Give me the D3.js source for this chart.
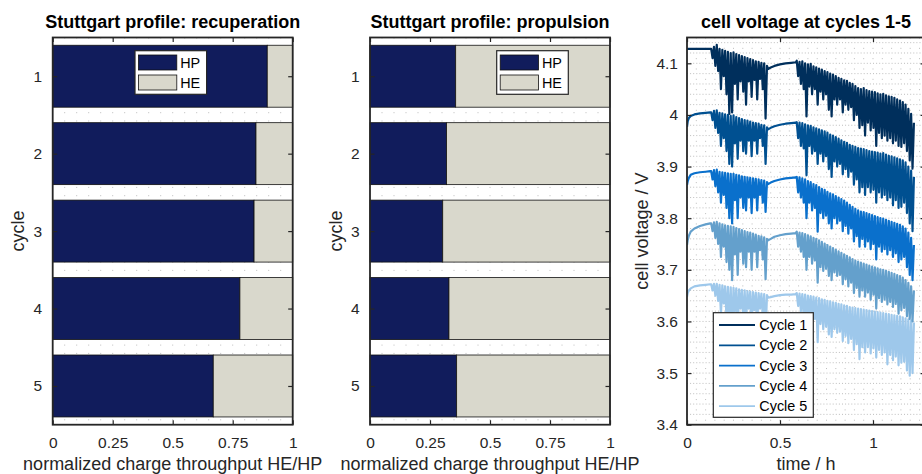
<!DOCTYPE html>
<html><head><meta charset="utf-8">
<script src="https://cdn.jsdelivr.net/npm/d3@7"></script>
<style>
body{margin:0;background:#fff;}
svg{display:block;font-family:"Liberation Sans",Arial,Helvetica,sans-serif;}
</style>
</head><body>
<svg id="chart" width="922" height="474"></svg>
<script>
// ---------------- data ----------------
const cycles = [1, 2, 3, 4, 5];
const hpRecuperation = [0.894, 0.847, 0.839, 0.780, 0.669];
const heRecuperation = [0.106, 0.153, 0.161, 0.220, 0.331];
const hpPropulsion = [0.357, 0.319, 0.303, 0.329, 0.361];
const hePropulsion = [0.643, 0.681, 0.697, 0.671, 0.639];
const barTicks = [0, 0.25, 0.5, 0.75, 1];
const barTickLabels = ["0", "0.25", "0.5", "0.75", "1"];
const barSeries = ["HP", "HE"];

const timeTicks = [0, 0.5, 1];
const timeTickLabels = ["0", "0.5", "1"];
const voltTicks = [3.4, 3.5, 3.6, 3.7, 3.8, 3.9, 4, 4.1];
const voltTickLabels = ["3.4", "3.5", "3.6", "3.7", "3.8", "3.9", "4", "4.1"];
const cycleNames = ["Cycle 1", "Cycle 2", "Cycle 3", "Cycle 4", "Cycle 5"];

const timeH = [
  0, 0.004, 0.01, 0.02, 0.04, 0.07, 0.10, 0.125,
  0.130, 0.1375, 0.145, 0.1525, 0.160, 0.1675, 0.175, 0.1825, 0.190, 0.1975, 0.205, 0.2125, 0.220, 0.2275,
  0.235, 0.2425, 0.250, 0.2575, 0.265, 0.2725, 0.280, 0.2875, 0.295, 0.3025, 0.310, 0.3175, 0.325, 0.3325,
  0.340, 0.3475, 0.355, 0.3625, 0.370, 0.3775, 0.385, 0.3925, 0.400, 0.4075, 0.415, 0.4225, 0.430,
  0.436, 0.45, 0.47, 0.50, 0.53, 0.56, 0.585,
  0.5900, 0.5975, 0.6050, 0.6125, 0.6200, 0.6275, 0.6350, 0.6425, 0.6500, 0.6575, 0.6650, 0.6725, 0.6800,
  0.6875, 0.6950, 0.7025, 0.7100, 0.7175, 0.7250, 0.7325, 0.7400, 0.7475, 0.7550, 0.7625, 0.7700, 0.7775,
  0.7850, 0.7925, 0.8000, 0.8075, 0.8150, 0.8225, 0.8300, 0.8375, 0.8450, 0.8525, 0.8600, 0.8675, 0.8750,
  0.8825, 0.8900, 0.8975, 0.9050, 0.9125, 0.9200, 0.9275, 0.9350, 0.9425, 0.9500, 0.9575, 0.9650, 0.9725,
  0.9800, 0.9875, 0.9950, 1.0025, 1.0100, 1.0175, 1.0250, 1.0325, 1.0400, 1.0475, 1.0550, 1.0625, 1.0700,
  1.0775, 1.0850, 1.0925, 1.1000, 1.1075, 1.1150, 1.1225, 1.1300, 1.1375, 1.1450, 1.1525, 1.1600, 1.1675,
  1.1750, 1.1825, 1.1900, 1.1975, 1.2050, 1.2125, 1.2200
];

const voltCycle1 = [
  4.127, 4.128, 4.128, 4.128, 4.128, 4.128, 4.128, 4.128,
  4.128, 4.110, 4.132, 4.095, 4.136, 4.085, 4.128, 4.050, 4.126, 4.075, 4.124, 4.040, 4.122, 4.002,
  4.120, 4.005, 4.121, 4.060, 4.118, 4.030, 4.116, 4.065, 4.114, 4.045, 4.112, 4.020, 4.110, 4.065,
  4.108, 4.035, 4.106, 4.068, 4.104, 4.030, 4.103, 4.070, 4.101, 4.050, 4.100, 3.993, 4.095,
  4.089, 4.092, 4.095, 4.098, 4.100, 4.101, 4.102,
  4.105, 4.075, 4.103, 4.060, 4.104, 4.050, 4.100, 3.997, 4.098, 4.055, 4.099, 4.040, 4.094,
  4.050, 4.092, 4.020, 4.090, 4.045, 4.088, 4.030, 4.085, 4.040, 4.083, 4.010, 4.080, 3.997,
  4.078, 4.030, 4.075, 4.020, 4.072, 4.030, 4.070, 4.005, 4.067, 4.020, 4.066, 4.010, 4.062,
  4.015, 4.060, 3.990, 4.056, 4.000, 4.052, 3.975, 4.050, 3.980, 4.052, 3.960, 4.048, 3.985,
  4.046, 3.970, 4.045, 3.975, 4.044, 3.940, 4.042, 3.965, 4.040, 3.955, 4.041, 3.960, 4.038,
  3.950, 4.036, 3.955, 4.035, 3.945, 4.033, 3.950, 4.030, 3.940, 4.028, 3.938, 4.025, 3.945,
  4.020, 3.930, 4.012, 3.912, 4.002, 3.896, 3.985
];
const voltCycle2 = [
  3.977, 3.988, 3.994, 3.998, 4.001, 4.003, 4.004, 4.005,
  4.005, 3.990, 4.008, 3.975, 4.009, 3.965, 4.004, 3.940, 4.003, 3.955, 4.001, 3.930, 4.000, 3.905,
  3.998, 3.900, 3.999, 3.945, 3.996, 3.915, 3.994, 3.950, 3.992, 3.930, 3.990, 3.925, 3.989, 3.950,
  3.987, 3.920, 3.985, 3.950, 3.984, 3.925, 3.983, 3.955, 3.981, 3.940, 3.980, 3.905, 3.976,
  3.972, 3.975, 3.978, 3.981, 3.983, 3.984, 3.985,
  3.986, 3.955, 3.985, 3.940, 3.984, 3.935, 3.982, 3.883, 3.980, 3.940, 3.979, 3.925, 3.976,
  3.930, 3.974, 3.905, 3.972, 3.925, 3.970, 3.910, 3.968, 3.920, 3.966, 3.895, 3.962, 3.880,
  3.960, 3.910, 3.957, 3.900, 3.954, 3.905, 3.951, 3.885, 3.948, 3.895, 3.946, 3.880, 3.942,
  3.890, 3.940, 3.865, 3.938, 3.875, 3.936, 3.850, 3.935, 3.860, 3.934, 3.845, 3.932, 3.860,
  3.930, 3.850, 3.929, 3.855, 3.928, 3.830, 3.927, 3.850, 3.925, 3.840, 3.926, 3.845, 3.923,
  3.835, 3.921, 3.840, 3.920, 3.825, 3.918, 3.835, 3.916, 3.820, 3.914, 3.822, 3.912, 3.830,
  3.908, 3.810, 3.900, 3.790, 3.892, 3.775, 3.880
];
const voltCycle3 = [
  3.864, 3.872, 3.878, 3.884, 3.887, 3.889, 3.890, 3.891,
  3.891, 3.875, 3.893, 3.862, 3.894, 3.850, 3.890, 3.830, 3.889, 3.845, 3.888, 3.820, 3.887, 3.800,
  3.886, 3.790, 3.886, 3.835, 3.884, 3.800, 3.883, 3.840, 3.881, 3.820, 3.880, 3.815, 3.879, 3.840,
  3.878, 3.810, 3.877, 3.840, 3.876, 3.815, 3.875, 3.845, 3.874, 3.830, 3.873, 3.812, 3.870,
  3.866, 3.869, 3.872, 3.875, 3.877, 3.878, 3.879,
  3.880, 3.850, 3.879, 3.840, 3.877, 3.830, 3.875, 3.800, 3.872, 3.830, 3.870, 3.815, 3.866,
  3.820, 3.864, 3.774, 3.860, 3.810, 3.857, 3.800, 3.855, 3.805, 3.851, 3.790, 3.848, 3.780,
  3.846, 3.800, 3.843, 3.790, 3.840, 3.795, 3.837, 3.775, 3.834, 3.785, 3.830, 3.770, 3.826,
  3.780, 3.822, 3.755, 3.818, 3.765, 3.815, 3.745, 3.813, 3.760, 3.812, 3.745, 3.810, 3.755,
  3.808, 3.740, 3.806, 3.750, 3.804, 3.720, 3.802, 3.745, 3.800, 3.735, 3.799, 3.740, 3.797,
  3.730, 3.795, 3.738, 3.793, 3.725, 3.791, 3.732, 3.789, 3.715, 3.787, 3.720, 3.784, 3.725,
  3.780, 3.705, 3.772, 3.690, 3.762, 3.680, 3.748
];
const voltCycle4 = [
  3.748, 3.758, 3.766, 3.774, 3.780, 3.785, 3.788, 3.790,
  3.790, 3.775, 3.792, 3.762, 3.793, 3.750, 3.790, 3.725, 3.788, 3.745, 3.786, 3.715, 3.785, 3.700,
  3.784, 3.680, 3.783, 3.730, 3.781, 3.690, 3.779, 3.735, 3.777, 3.712, 3.775, 3.705, 3.773, 3.735,
  3.772, 3.700, 3.770, 3.735, 3.768, 3.705, 3.766, 3.738, 3.765, 3.720, 3.763, 3.682, 3.760,
  3.757, 3.760, 3.764, 3.767, 3.769, 3.770, 3.771,
  3.774, 3.745, 3.772, 3.735, 3.771, 3.725, 3.769, 3.700, 3.767, 3.725, 3.765, 3.712, 3.762,
  3.718, 3.760, 3.675, 3.757, 3.705, 3.754, 3.698, 3.751, 3.702, 3.748, 3.688, 3.745, 3.680,
  3.742, 3.695, 3.739, 3.688, 3.736, 3.690, 3.733, 3.672, 3.730, 3.682, 3.727, 3.668, 3.724,
  3.675, 3.721, 3.655, 3.718, 3.665, 3.716, 3.648, 3.714, 3.660, 3.712, 3.648, 3.710, 3.656,
  3.708, 3.642, 3.706, 3.652, 3.705, 3.625, 3.703, 3.645, 3.701, 3.638, 3.700, 3.642, 3.698,
  3.633, 3.696, 3.638, 3.694, 3.628, 3.692, 3.634, 3.690, 3.615, 3.688, 3.622, 3.685, 3.626,
  3.680, 3.610, 3.675, 3.605, 3.668, 3.600, 3.660
];
const voltCycle5 = [
  3.648, 3.655, 3.660, 3.664, 3.668, 3.670, 3.671, 3.672,
  3.672, 3.660, 3.673, 3.650, 3.673, 3.640, 3.671, 3.615, 3.670, 3.635, 3.668, 3.605, 3.667, 3.590,
  3.666, 3.575, 3.665, 3.620, 3.664, 3.585, 3.662, 3.625, 3.661, 3.600, 3.660, 3.595, 3.659, 3.625,
  3.658, 3.590, 3.657, 3.622, 3.656, 3.595, 3.655, 3.625, 3.654, 3.610, 3.653, 3.575, 3.651,
  3.646, 3.647, 3.649, 3.651, 3.652, 3.652, 3.653,
  3.655, 3.630, 3.654, 3.620, 3.653, 3.612, 3.652, 3.595, 3.650, 3.615, 3.649, 3.600, 3.648,
  3.605, 3.646, 3.560, 3.645, 3.595, 3.643, 3.585, 3.642, 3.590, 3.640, 3.575, 3.639, 3.570,
  3.637, 3.585, 3.636, 3.578, 3.634, 3.580, 3.633, 3.562, 3.631, 3.572, 3.630, 3.558, 3.628,
  3.566, 3.627, 3.545, 3.626, 3.556, 3.625, 3.527, 3.624, 3.550, 3.623, 3.540, 3.622, 3.550,
  3.621, 3.538, 3.620, 3.548, 3.619, 3.530, 3.618, 3.545, 3.617, 3.535, 3.616, 3.540, 3.615,
  3.517, 3.614, 3.535, 3.613, 3.525, 3.612, 3.532, 3.611, 3.515, 3.610, 3.520, 3.608, 3.522,
  3.606, 3.505, 3.604, 3.495, 3.602, 3.500, 3.598
];
const voltSeries = [voltCycle1, voltCycle2, voltCycle3, voltCycle4, voltCycle5];

// ---------------- styles ----------------
const HP_COLOR = "#111c5c";
const HE_COLOR = "#d9d8cc";
const CYCLE_COLORS = ["#002f5c", "#005091", "#0a70cc", "#64a0cc", "#9ec8eb"];
const AX = "#262626";
const GRID = "#bdbdbd";
const TOP = 37.5, BOTTOM = 424.7;
const TICK_FS = 15.5, LABEL_FS = 18, TITLE_FS = 18, LEG_FS = 14.4;
const LABEL_Y = 469.5;

const svg = d3.select("#chart");

function styleAxis(sel) {
  sel.select(".domain").remove();
  sel.attr("font-family", null).attr("font-size", null);
  sel.selectAll(".tick line").attr("stroke", AX).attr("stroke-width", 1.2);
  sel.selectAll(".tick text").attr("fill", AX).attr("font-size", TICK_FS);
}

function frame(g, x, y, xTickVals, xFmt, yTickVals, yFmt, left, right, top, bottom, yPad) {
  g.append("g").attr("transform", `translate(0,${bottom})`)
    .call(d3.axisBottom(x).tickValues(xTickVals).tickFormat(xFmt).tickSizeInner(-4.5).tickSizeOuter(0).tickPadding(12.8))
    .call(styleAxis);
  g.append("g").attr("transform", `translate(0,${top})`)
    .call(d3.axisTop(x).tickValues(xTickVals).tickFormat("").tickSizeInner(-4.5).tickSizeOuter(0))
    .call(styleAxis);
  g.append("g").attr("transform", `translate(${left},0)`)
    .call(d3.axisLeft(y).tickValues(yTickVals).tickFormat(yFmt).tickSizeInner(-4.5).tickSizeOuter(0).tickPadding(yPad))
    .call(styleAxis);
  g.append("g").attr("transform", `translate(${right},0)`)
    .call(d3.axisRight(y).tickValues(yTickVals).tickFormat("").tickSizeInner(-4.5).tickSizeOuter(0))
    .call(styleAxis);
  g.append("rect").attr("x", left).attr("y", top).attr("width", right - left).attr("height", bottom - top)
    .attr("fill", "none").attr("stroke", AX).attr("stroke-width", 1.8);
}

function barPanel(x0, title, hp, he, legendX) {
  const g = svg.append("g");
  const x = d3.scaleLinear().domain([0, 1]).range([x0, x0 + 240]);
  const y = d3.scaleLinear().domain([0.5, 5.5]).range([TOP, BOTTOM]);
  // minor grid
  g.append("g").selectAll("line").data(d3.range(0.05, 1, 0.05)).join("line")
    .attr("x1", d => x(d)).attr("x2", d => x(d)).attr("y1", TOP).attr("y2", BOTTOM)
    .attr("stroke", GRID).attr("stroke-width", 1).attr("stroke-dasharray", "1,7.3");
  // stacked bars
  const rows = cycles.map((c, i) => ({ c: c, HP: hp[i], HE: he[i] }));
  const stack = d3.stack().keys(barSeries)(rows);
  const colors = { HP: HP_COLOR, HE: HE_COLOR };
  stack.forEach(layer => {
    g.append("g").selectAll("rect").data(layer).join("rect")
      .attr("x", d => x(d[0])).attr("width", d => x(d[1]) - x(d[0]))
      .attr("y", d => y(d.data.c - 0.4)).attr("height", y(1.4) - y(0.6))
      .attr("fill", colors[layer.key]).attr("stroke", "#111").attr("stroke-width", 0.8);
  });
  frame(g, x, y, barTicks, (d, i) => barTickLabels[i], cycles, d3.format("d"), x0, x0 + 240, TOP, BOTTOM, 10.5);
  // labels
  g.append("text").attr("x", x0 + 120).attr("y", 28).attr("text-anchor", "middle")
    .attr("font-size", TITLE_FS).attr("font-weight", "bold").attr("fill", "#000").text(title);
  g.append("text").attr("x", x0 + 120).attr("y", LABEL_Y).attr("text-anchor", "middle")
    .attr("font-size", LABEL_FS).attr("fill", AX).text("normalized charge throughput HE/HP");
  g.append("text").attr("transform", `translate(${x0 - 28.5},${(TOP + BOTTOM) / 2}) rotate(-90)`)
    .attr("text-anchor", "middle").attr("font-size", LABEL_FS).attr("fill", AX).text("cycle");
  // legend
  const lg = g.append("g");
  lg.append("rect").attr("x", legendX).attr("y", 50.7).attr("width", 71.6).attr("height", 43.6)
    .attr("fill", "#fff").attr("stroke", AX).attr("stroke-width", 1.2);
  barSeries.forEach((k, i) => {
    lg.append("rect").attr("x", legendX + 3.5).attr("y", 55 + i * 20).attr("width", 38.3).attr("height", 15)
      .attr("fill", colors[k]).attr("stroke", "#111").attr("stroke-width", 0.8);
    lg.append("text").attr("x", legendX + 45.2).attr("y", 62.5 + i * 20).attr("dy", "0.36em")
      .attr("font-size", LEG_FS).attr("fill", "#000").text(k);
  });
}

barPanel(52.7, "Stuttgart profile: recuperation", hpRecuperation, heRecuperation, 135);
barPanel(370, "Stuttgart profile: propulsion", hpPropulsion, hePropulsion, 496.7);

// ---------------- voltage panel ----------------
(function () {
  const g = svg.append("g");
  const L = 687, R = 687 + 1.28 * 186;
  const x = d3.scaleLinear().domain([0, 1.28]).range([L, R]);
  const y = d3.scaleLinear().domain([3.4, 4.15]).range([BOTTOM, TOP]);
  g.append("defs").append("clipPath").attr("id", "vclip").append("rect")
    .attr("x", L).attr("y", TOP).attr("width", R - L).attr("height", BOTTOM - TOP);
  const gg = g.append("g");
  gg.selectAll("line.h").data(d3.range(3.42, 4.15, 0.02)).join("line").attr("class", "h")
    .attr("x1", L).attr("x2", R).attr("y1", d => y(d)).attr("y2", d => y(d))
    .attr("stroke", GRID).attr("stroke-width", 1).attr("stroke-dasharray", "1,2.1");
  gg.selectAll("line.v").data(d3.range(0.05, 1.28, 0.05)).join("line").attr("class", "v")
    .attr("x1", d => x(d)).attr("x2", d => x(d)).attr("y1", TOP).attr("y2", BOTTOM)
    .attr("stroke", GRID).attr("stroke-width", 1).attr("stroke-dasharray", "1,9.33");
  const line = d3.line().x((d, i) => x(timeH[i])).y(d => y(d));
  const lg = g.append("g").attr("clip-path", "url(#vclip)");
  for (let i = voltSeries.length - 1; i >= 0; i--) {
    lg.append("path").attr("d", line(voltSeries[i])).attr("fill", "none")
      .attr("stroke", CYCLE_COLORS[i]).attr("stroke-width", 2.2).attr("stroke-linejoin", "round");
  }
  frame(g, x, y, timeTicks, (d, i) => timeTickLabels[i], voltTicks, (d, i) => voltTickLabels[i], L, R, TOP, BOTTOM, 9);
  g.append("text").attr("x", (L + R) / 2).attr("y", 28).attr("text-anchor", "middle")
    .attr("font-size", TITLE_FS).attr("font-weight", "bold").attr("fill", "#000").text("cell voltage at cycles 1-5");
  g.append("text").attr("x", (L + R) / 2).attr("y", LABEL_Y).attr("text-anchor", "middle")
    .attr("font-size", LABEL_FS).attr("fill", AX).text("time / h");
  g.append("text").attr("transform", `translate(647.7,${(TOP + BOTTOM) / 2}) rotate(-90)`)
    .attr("text-anchor", "middle").attr("font-size", LABEL_FS).attr("fill", AX).text("cell voltage / V");
  // legend
  const leg = g.append("g");
  leg.append("rect").attr("x", 713.3).attr("y", 312.7).attr("width", 100).attr("height", 104.6)
    .attr("fill", "#fff").attr("stroke", AX).attr("stroke-width", 1.2);
  cycleNames.forEach((n, i) => {
    const yy = 325 + i * 20.3;
    leg.append("line").attr("x1", 719).attr("x2", 755).attr("y1", yy).attr("y2", yy)
      .attr("stroke", CYCLE_COLORS[i]).attr("stroke-width", 1.8);
    leg.append("text").attr("x", 759.3).attr("y", yy).attr("dy", "0.36em")
      .attr("font-size", LEG_FS).attr("fill", "#000").text(n);
  });
})();
</script>
</body></html>
